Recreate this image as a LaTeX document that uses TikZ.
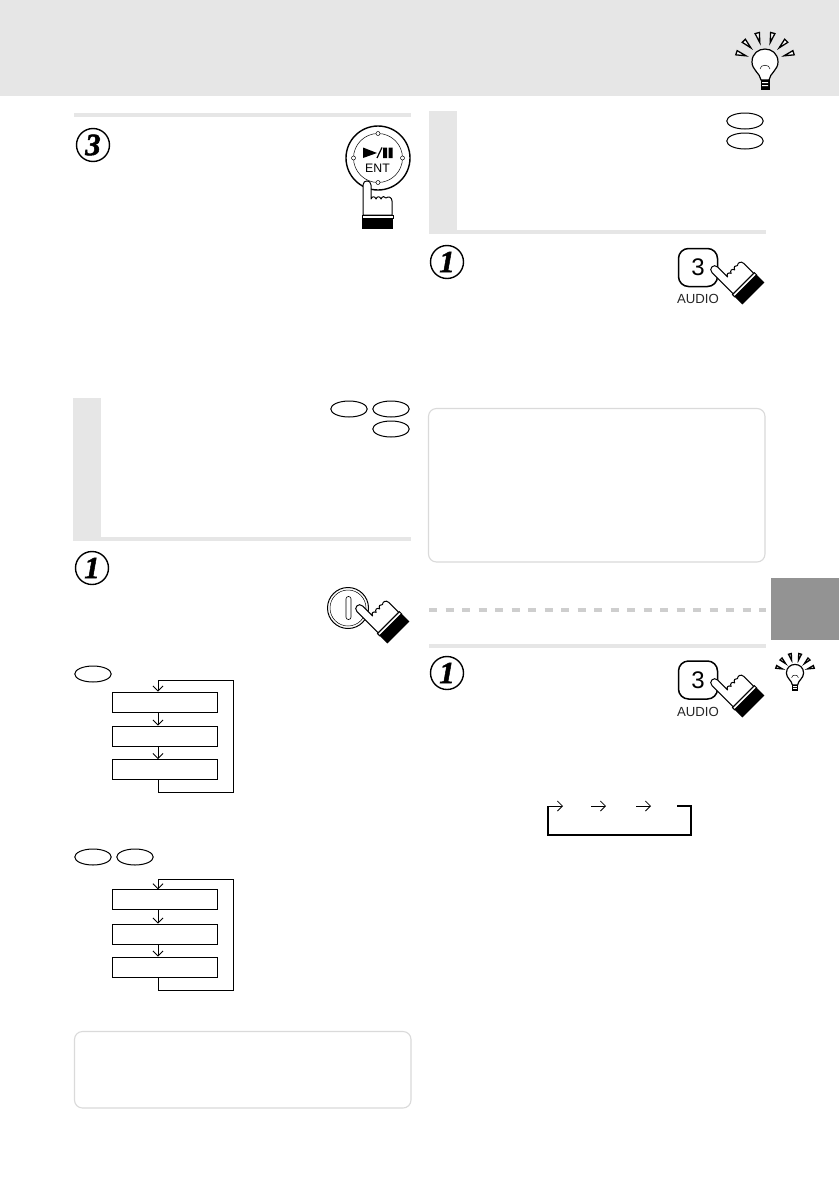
\documentclass[tikz,border=0pt]{standalone}
\usepackage{fontspec}
\setmainfont{Liberation Sans}
\newfontfamily\badgefont[BoldItalicFont={Liberation Serif Bold Italic},BoldItalicFeatures={FakeBold=1.6}]{Liberation Serif}
\usetikzlibrary{arrows.meta,shapes.geometric,calc}
\definecolor{panelgray}{HTML}{E6E6E6}
\definecolor{tabgray}{HTML}{939393}
\definecolor{notegray}{HTML}{DADADA}
\definecolor{dashgray}{HTML}{CECECE}
\tikzset{
  x=1pt,y=-1pt,
  panel/.style={fill=panelgray,draw=none},
  notebox/.style={draw=notegray,line width=1.1pt,rounded corners=8pt,fill=white},
  discbadge/.style={circle,draw=black,line width=1.4pt,minimum size=33pt,inner sep=0pt,font=\badgefont\fontsize{31}{31}\selectfont\bfseries\itshape},
  discoval/.style={ellipse,draw=black,line width=1pt,minimum width=36.5pt,minimum height=16pt,inner sep=0pt,fill=white},
  flowbox/.style={draw=black,line width=1pt,minimum width=104.5pt,inner sep=0pt,fill=white},
  flowline/.style={draw=black,line width=1pt},
  flowarrow/.style={flowline,-{Straight Barb[length=5pt,width=10pt,line width=0.8pt]}},
  cycleline/.style={draw=black,line width=1.4pt},
  cyclearrow/.style={draw=black,line width=0.8pt,-{Straight Barb[length=5pt,width=10pt,line width=0.8pt]}},
  keybox/.style={draw=black,line width=1.5pt,rounded corners=10pt,fill=white,minimum width=39pt,minimum height=38pt,inner sep=0pt,font=\fontsize{24}{24}\selectfont},
  keylabel/.style={inner sep=0pt,text=black!85,font=\fontsize{13.2}{14}\selectfont},
  rayshape/.style={draw=black,line width=1.3pt,fill=white,line join=miter},
}
% pointing hand: fingertip at (#1,#2), rotated by #3
\newcommand{\pointhand}[3]{%
  \begin{scope}[shift={(#1,#2)},rotate=#3]
    \draw[fill=white,line width=1pt,line join=round]
      (-4,34) -- (-4,4) .. controls (-4,-1.5) and (4,-1.5) .. (4,4) -- (4,18)
      .. controls (5,15) and (8,15) .. (9,18)
      .. controls (10,15) and (13,15) .. (14,18)
      .. controls (15,15) and (18,15) .. (19,17)
      .. controls (21,15) and (25,16) .. (25,20) -- (25,34) -- cycle;
    \draw[fill=white,line width=1pt] (-5,34) rectangle (26,37);
    \fill[black] (-5,37) rectangle (26,48);
  \end{scope}}
% light bulb centred at (#1,#2), scale #3
\newcommand{\lightbulb}[3]{%
  \begin{scope}[shift={(#1,#2)},scale=#3]
    \foreach \a in {18,45,75,105,135,162}{
      \begin{scope}[rotate=\a]
        \draw[rayshape] (20,0) -- (30,2.2) -- (30,-2.2) -- cycle;
      \end{scope}}
    \draw[line width=1.2pt,fill=white,line join=round]
      (-4,18) .. controls (-5,11) and (-13,8) .. (-13,0)
      .. controls (-13,-17.3) and (13,-17.3) .. (13,0)
      .. controls (13,8) and (5,11) .. (4,18) -- cycle;
    \fill[black] (-4.5,18) rectangle (4.5,28);
    \fill[white] (-3,20) rectangle (3,21.2) (-3,23) rectangle (3,24.2);
    \draw[line width=0.5pt] (-5,7) .. controls (-5,2) and (5,2) .. (5,7);
  \end{scope}}
\begin{document}
\begin{tikzpicture}
\useasboundingbox (0,0) rectangle (839,1191);
\fill[white] (0,0) rectangle (839,1191);
% header
\fill[panel] (0,0) rectangle (839,96);
\lightbulb{765}{62}{1}
% side tab
\fill[tabgray] (771,578) rectangle (839,640);
% left column
\fill[panel] (74,113) rectangle (411,117);
\fill[panel] (73,398) rectangle (101,537);
\fill[panel] (73,537) rectangle (411,541);
% right column
\fill[panel] (429,111) rectangle (457,230);
\fill[panel] (429,230) rectangle (766,234);
\draw[dashgray,line width=4pt,dash pattern=on 8pt off 8.5pt] (429,610) -- (766,610);
\fill[panel] (429,644) rectangle (766,648);
% note boxes
\draw[notebox] (428.5,408.5) rectangle (765,562);
\draw[notebox] (74.5,1031.5) rectangle (411,1108);
% step badges
\node[discbadge] (stepthree) at (93,145) {3};
\node[discbadge] (stepone) at (92,568) {1};
\node[discbadge] (steponeb) at (447,262) {1};
\node[discbadge] (steponec) at (447,673) {1};
% ENT key
\draw[line width=1.4pt,fill=white] (378,158) circle (32);
\draw[line width=0.5pt] (378,158) circle (24.5);
\foreach \a in {0,90,180,270}{\draw[line width=0.5pt,fill=white] (378,158) ++(\a:24.5) circle (2);}
\fill[black] (363,147.5) -- (377,153) -- (363,158) -- cycle;
\draw[line width=1.2pt] (377,158) -- (382,147.5);
\fill[black] (383,147.5) rectangle (387,158) (388.5,147.5) rectangle (392.5,158);
\node[inner sep=0pt,font=\fontsize{12.3}{13}\selectfont] (entlabel) at (377.5,168) {ENT};
\pointhand{367}{181}{0}
% power key
\draw[line width=1pt,fill=white] (348,608) circle (20.5);
\draw[line width=0.5pt] (348,608) circle (18);
\draw[line width=0.6pt,rounded corners=2.4pt] (346,596.5) rectangle (351,619.5);
\pointhand{357}{606}{45}
% audio keys
\node[keybox] (audiokeya) at (698,267.5) {3};
\node[keylabel] (audiolaba) at (698,299) {AUDIO};
\pointhand{712}{267}{45}
\node[keybox] (audiokeyb) at (698,680) {3};
\node[keylabel] (audiolabb) at (698,712) {AUDIO};
\pointhand{712}{680}{45}
\lightbulb{795}{673}{0.66}
% disc ovals
\node[discoval] (ovala) at (349,409) {};
\node[discoval] (ovalb) at (391,409) {};
\node[discoval] (ovalc) at (391,429) {};
\node[discoval] (ovald) at (745,121) {};
\node[discoval] (ovale) at (745,141) {};
\node[discoval] (ovalf) at (93,674) {};
\node[discoval] (ovalg) at (93,857) {};
\node[discoval] (ovalh) at (135,857) {};
% flow 1
\node[flowbox,minimum height=20pt] (fa) at (165,702) {};
\node[flowbox,minimum height=20pt] (fb) at (165,736) {};
\node[flowbox,minimum height=20pt] (fc) at (165,769.5) {};
\coordinate (ftop) at (158,680);
\coordinate (fbot) at (158,792);
\coordinate (fright) at (233,792);
\coordinate (fcorner) at (233,680);
\draw[flowarrow] (fa.south -| ftop) -- (fb.north -| ftop);
\draw[flowarrow] (fb.south -| ftop) -- (fc.north -| ftop);
\draw[flowarrow] (fc.south -| ftop) -- (fbot) -- (fright) -- (fcorner) -- (ftop) -- (fa.north -| ftop);
% flow 2
\node[flowbox,minimum height=19.5pt,minimum width=105pt] (ga) at (164.5,899.5) {};
\node[flowbox,minimum height=20pt,minimum width=105pt] (gb) at (164.5,934) {};
\node[flowbox,minimum height=20pt,minimum width=105pt] (gc) at (164.5,967) {};
\coordinate (gtop) at (158,879);
\coordinate (gbot) at (158,990);
\coordinate (gright) at (233,990);
\coordinate (gcorner) at (233,879);
\draw[flowarrow] (ga.south -| gtop) -- (gb.north -| gtop);
\draw[flowarrow] (gb.south -| gtop) -- (gc.north -| gtop);
\draw[flowarrow] (gc.south -| gtop) -- (gbot) -- (gright) -- (gcorner) -- (gtop) -- (ga.north -| gtop);
% cycle
\coordinate (ca) at (563,806);
\coordinate (cb) at (591,806);
\coordinate (cc) at (606,806);
\coordinate (cd) at (636,806);
\coordinate (ce) at (651,806);
\coordinate (cf) at (677,806);
\coordinate (cg) at (691,806);
\coordinate (ch) at (691,835);
\coordinate (ci) at (548,835);
\coordinate (cj) at (548,806);
\draw[cycleline] (cf) -- (cg) -- (ch) -- (ci) -- (cj);
\draw[cyclearrow] (cj) -- (ca);
\draw[cyclearrow] (cb) -- (cc);
\draw[cyclearrow] (cd) -- (ce);
\end{tikzpicture}
\end{document}
